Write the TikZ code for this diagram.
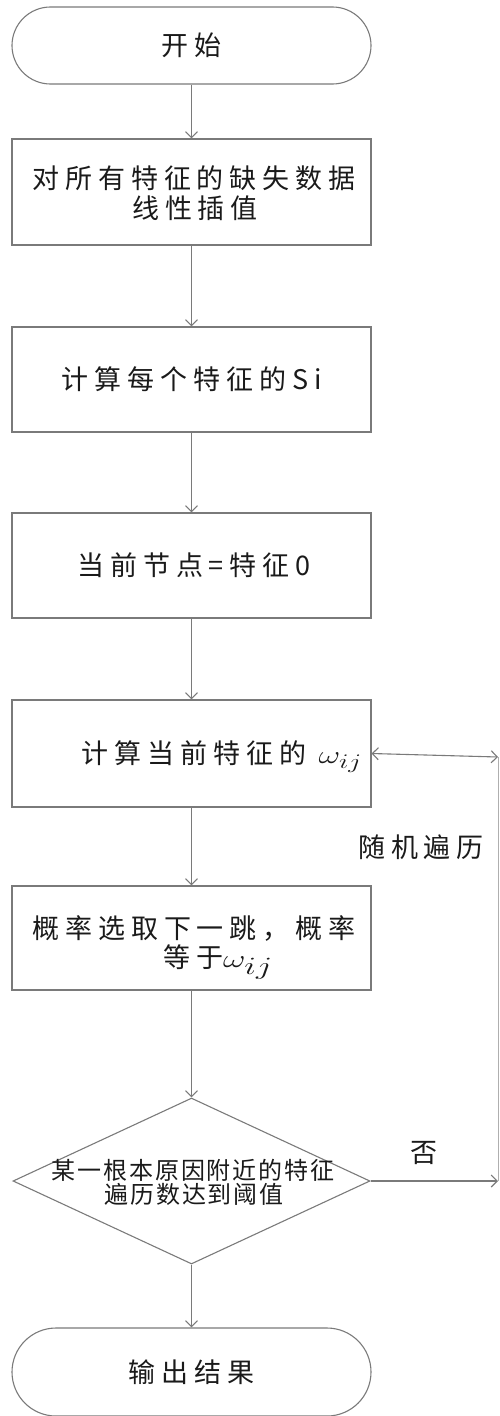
\documentclass[tikz,border=0pt]{standalone}
\usepackage{fontspec}
\usepackage{graphicx}
\usetikzlibrary{shapes.geometric,shapes.misc,arrows.meta}
\newfontfamily\cjk[LetterSpace=22]{Noto Sans CJK SC}
\newfontfamily\cjkd[LetterSpace=8]{Noto Sans CJK SC}
\definecolor{linec}{HTML}{7A7A7A}
\definecolor{txtc}{HTML}{1A1A1A}
\newcommand\myomega[2]{\scalebox{#2}[1]{\fontsize{#1}{#1}\selectfont$\omega_{ij}$}}
\begin{document}
\begin{tikzpicture}[x=1pt,y=-1pt,
  shp/.style={draw=linec,line width=1.1pt,inner sep=0pt},
  term/.style={shp,rounded rectangle,minimum width=359pt,minimum height=77pt},
  stepbox/.style={shp,rectangle,minimum width=359pt},
  decis/.style={shp,diamond,minimum width=357pt,minimum height=166pt,aspect=2.15},
  txt/.style={text=txtc,font=\cjk\fontsize{27}{30}\selectfont,align=center,inner sep=0pt},
  dtxt/.style={text=txtc,font=\cjkd\fontsize{24}{24}\selectfont,inner sep=0pt},
  arr/.style={draw=linec,line width=1.1pt,-{Straight Barb[length=6pt,width=12pt]}},
  plain/.style={draw=linec,line width=1.1pt}]
\useasboundingbox (0,0) rectangle (499,1416);

\node[term,txt] (start) at (191.5,45.5) {开始};
\node[stepbox,minimum height=106pt] (b1) at (191.5,192) {};
\node[txt] at (194,178) {对所有特征的缺失数据};
\node[txt] at (195,208) {线性插值};
\node[stepbox,minimum height=105pt] (b2) at (191.5,379.5) {};
\node[txt] at (192,379.5) {计算每个特征的Si};
\node[stepbox,minimum height=105pt] (b3) at (191.5,565.5) {};
\node[txt] at (194,565.5) {当前节点=特征0};
\node[stepbox,minimum height=107pt] (b4) at (191.5,753.5) {};
\node[txt,anchor=base] at (222,763) {计算当前特征的 \myomega{30}{1.35}};
\node[stepbox,minimum height=104pt] (b5) at (191.5,938) {};
\node[txt] at (194,928) {概率选取下一跳，概率};
\node[txt,anchor=base] at (218,967) {等于\myomega{40}{1.4}};
\node[decis] (d) at (191.5,1181) {};
\node[dtxt] at (193,1170) {某一根本原因附近的特征};
\node[dtxt] at (194,1194) {遍历数达到阈值};
\node[term,txt,minimum height=88pt] (end) at (191.5,1372) {输出结果};

\coordinate (c1) at (498,1181);
\coordinate (c2) at (498,757);

\draw[arr] (start.south) -- (b1.north);
\draw[arr] (b1.south) -- (b2.north);
\draw[arr] (b2.south) -- (b3.north);
\draw[arr] (b3.south) -- (b4.north);
\draw[arr] (b4.south) -- (b5.north);
\draw[arr] (b5.south) -- (d.north);
\draw[arr] (d.south) -- (end.north);
\draw[arr] (d.east) -- (c1);
\draw[draw=linec!60,line width=0.8pt] (c1) -- (c2);
\draw[arr,{Straight Barb[length=6pt,width=12pt]}-{Straight Barb[length=6pt,width=12pt]}] (c2) -- (b4.east);

\node[txt] at (421,847) {随机遍历};
\node[txt] at (424,1153) {否};
\end{tikzpicture}
\end{document}
